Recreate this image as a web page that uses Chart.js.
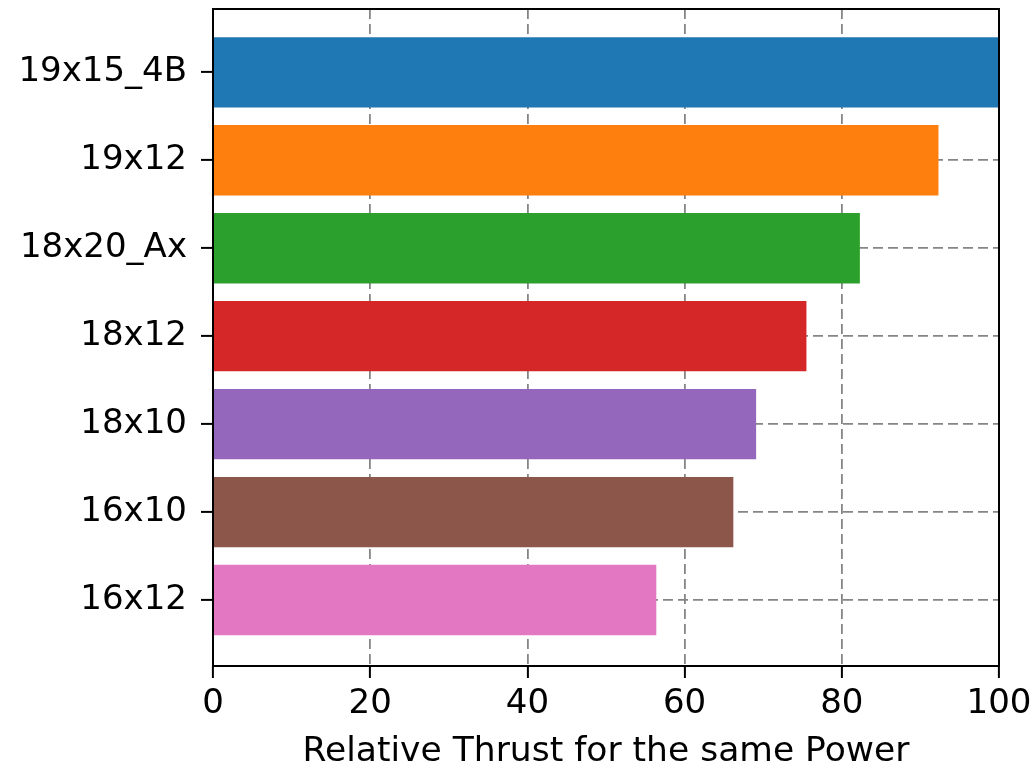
<!DOCTYPE html>
<html>
<head>
<meta charset="utf-8">
<script src="https://cdn.jsdelivr.net/npm/chart.js@4"></script>
<style>
  body { margin: 0; background: #fff; }
  #thrustChart { display: block; }
</style>
</head>
<body>
<canvas id="thrustChart" width="1033" height="770"></canvas>
<script>
// Propellers, top to bottom
const props = ['19x15_4B', '19x12', '18x20_Ax', '18x12', '18x10', '16x10', '16x12'];
const relThrust = [100, 92.3, 82.3, 75.5, 69.1, 66.2, 56.4];
const barColors = ['#1f77b4', '#ff7f0e', '#2ca02c', '#d62728', '#9467bd', '#8c564b', '#e377c2'];
const xTicks = [0, 20, 40, 60, 80, 100];

const fontFamily = 'DejaVu Sans';
const fontSize = 34;

// black frame around the plot area (matplotlib spines)
const framePlugin = {
    id: 'frame',
    afterDatasetsDraw(chart) {
        const { ctx, chartArea: a } = chart;
        ctx.save();
        ctx.strokeStyle = '#000';
        ctx.lineWidth = 2;
        ctx.strokeRect(a.left, a.top, a.right - a.left, a.bottom - a.top);
        ctx.restore();
    }
};

const gridStyle = { color: '#858585', lineWidth: 1.8, tickLength: 12, tickColor: '#000', tickWidth: 2, tickBorderDash: [], offset: false };

const thrustCtx = document.getElementById('thrustChart').getContext('2d');
new Chart(thrustCtx, {
    type: 'bar',
    data: {
        datasets: [{
            data: props.map((p, i) => ({ x: relThrust[i], y: i })),
            backgroundColor: barColors,
            barPercentage: 0.8,
            categoryPercentage: 1.0
        }]
    },
    options: {
        indexAxis: 'y',
        responsive: false,
        animation: false,
        layout: { padding: { top: 9, right: 34, left: 0, bottom: 0 } },
        plugins: {
            legend: { display: false },
            tooltip: { enabled: false }
        },
        scales: {
            x: {
                type: 'linear',
                min: 0,
                max: 100,
                afterBuildTicks: s => { s.ticks = xTicks.map(v => ({ value: v })); },
                afterFit: s => { s.height = 104; s.paddingLeft = 0; s.paddingRight = 0; },
                ticks: { color: '#000', padding: 6, maxRotation: 0, font: { family: fontFamily, size: fontSize } },
                grid: gridStyle,
                border: { display: false, dash: [10, 5] },
                title: {
                    display: true,
                    text: 'Relative Thrust for the same Power',
                    color: '#000',
                    font: { family: fontFamily, size: 34.5 },
                    padding: { top: 0, bottom: -3 }
                }
            },
            y: {
                type: 'linear',
                reverse: true,
                offset: false,
                min: -0.72,
                max: 6.75,
                afterBuildTicks: s => { s.ticks = props.map((p, i) => ({ value: i })); },
                afterFit: s => { s.width = 213; s.paddingTop = 0; s.paddingBottom = 0; },
                ticks: {
                    color: '#000',
                    padding: 14,
                    font: { family: fontFamily, size: fontSize },
                    callback: v => props[v]
                },
                grid: gridStyle,
                border: { display: false, dash: [10, 5] }
            }
        }
    },
    plugins: [framePlugin]
});
</script>
</body>
</html>
